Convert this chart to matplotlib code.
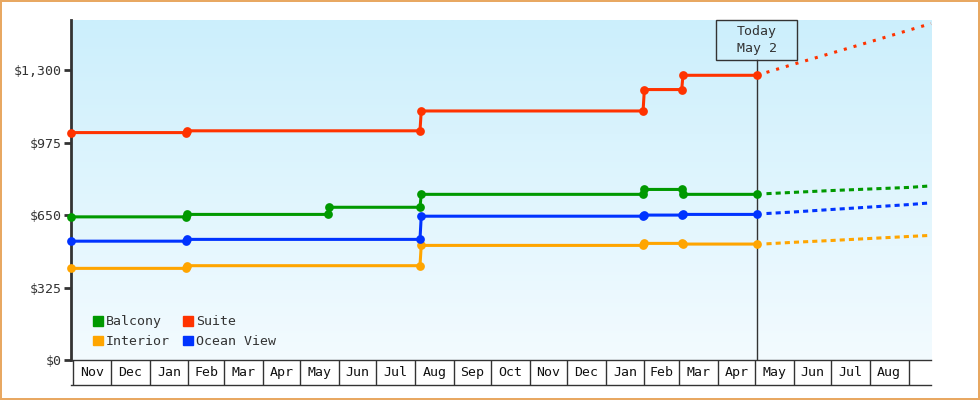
import numpy as np
import pandas as pd
import matplotlib
matplotlib.use('Agg')
import matplotlib.pyplot as plt
import matplotlib.dates as mdates
from matplotlib.colors import LinearSegmentedColormap
from matplotlib.patches import Patch, Rectangle

plt.rcParams['font.family'] = ['DejaVu Sans Mono', 'DejaVu Sans']

# price history, each step change is two points one day apart
dates_std = ['2023-10-30', '2024-01-30', '2024-01-31', '2024-08-05', '2024-08-06',
             '2025-01-31', '2025-02-01', '2025-03-03', '2025-03-04', '2025-05-02']
dates_balcony = ['2023-10-30', '2024-01-30', '2024-01-31', '2024-05-23', '2024-05-24',
                 '2024-08-05', '2024-08-06', '2025-01-31', '2025-02-01', '2025-03-03',
                 '2025-03-04', '2025-05-02']

balcony = [642, 642, 653, 653, 685, 685, 743, 743, 765, 765, 743, 743]
suite = [1020, 1020, 1028, 1028, 1117, 1117, 1213, 1213, 1277, 1277]
ocean_view = [533, 533, 541, 541, 645, 645, 650, 650, 653, 653]
interior = [411, 411, 423, 423, 514, 514, 523, 523, 520, 520]

# forecast after today
fc_dates = ['2025-05-10', '2025-06-01', '2025-07-01', '2025-08-01', '2025-09-01', '2025-09-19']
fc_balcony = [746, 752, 760, 767, 774, 781]
fc_suite = [1290, 1327, 1376, 1427, 1479, 1509]
fc_ocean_view = [657, 664, 675, 686, 697, 705]
fc_interior = [521, 528, 536, 545, 554, 559]

today = '2025-05-02'
today_label = 'Today\nMay 2'
x_start, x_end = '2023-10-30', '2025-09-19'
y_ticks = [0, 325, 650, 975, 1300]
y_labels = ['$0', '$325', '$650', '$975', '$1,300']

colors = {'Balcony': '#009900', 'Suite': '#FF3300',
          'Interior': '#FFA500', 'Ocean View': '#0033FF'}
dark = '#333333'
W, H = 980, 400

fig = plt.figure(figsize=(9.8, 4.0), dpi=100)
fig.patch.set_facecolor('white')
fig.patch.set_edgecolor('#E8A862')
fig.patch.set_linewidth(1.5)

pos = [71 / W, 40 / H, 860 / W, 340 / H]

# gradient background
bg = fig.add_axes(pos, zorder=0)
cmap = LinearSegmentedColormap.from_list('bg', ['#F3FBFF', '#CCEFFC'])
bg.imshow(np.linspace(0, 1, 256).reshape(-1, 1), cmap=cmap, aspect='auto',
          origin='lower', extent=[0, 1, 0, 1])
bg.axis('off')

ax = fig.add_axes(pos, zorder=1)
ax.patch.set_alpha(0)

td = lambda d: pd.to_datetime(d)

series = [('Balcony', dates_balcony, balcony, fc_balcony, (1.67, 1.33)),
          ('Suite', dates_std, suite, fc_suite, (1.0, 2.3)),
          ('Interior', dates_std, interior, fc_interior, (1.67, 1.33)),
          ('Ocean View', dates_std, ocean_view, fc_ocean_view, (1.67, 1.33))]

for name, d, v, fc, dash in series:
    c = colors[name]
    ax.plot(td(d), v, color=c, lw=2.2, marker='o', ms=6.3, mec=c, mew=0,
            solid_capstyle='round', zorder=3, clip_on=False)
    ax.plot(td(fc_dates), fc, color=c, lw=2.2, dashes=dash, zorder=3, clip_on=False)

ax.set_xlim(td(x_start), td(x_end))
ax.set_ylim(0, 1525)

ax.set_yticks(y_ticks)
ax.set_yticklabels(y_labels)
ax.tick_params(axis='y', length=5, width=2, color=dark, labelcolor=dark,
               labelsize=9.5, pad=1.5)
ax.set_xticks([])
for s in ['top', 'right']:
    ax.spines[s].set_visible(False)
ax.spines['left'].set_color(dark)
ax.spines['left'].set_linewidth(2)
ax.spines['bottom'].set_color(dark)
ax.spines['bottom'].set_linewidth(1)

# today marker line and box
x0, x1 = mdates.date2num(td(x_start)), mdates.date2num(td(x_end))
tf = (mdates.date2num(td(today)) - x0) / (x1 - x0)
box_w, box_h = 81 / 860, 40 / 340
ax.plot([tf, tf], [0, 1 - box_h], color=dark, lw=1, transform=ax.transAxes, zorder=2)
ax.add_patch(Rectangle((tf - box_w / 2, 1 - box_h), box_w, box_h, transform=ax.transAxes,
                       fill=False, ec=dark, lw=1, zorder=4, clip_on=False))
ax.text(tf, 1 - box_h / 2, today_label, transform=ax.transAxes, ha='center', va='center',
        fontsize=9.5, color=dark, linespacing=1.35, zorder=5)

# legend
handles = [Patch(color=colors[n]) for n in ['Balcony', 'Interior', 'Suite', 'Ocean View']]
ax.legend(handles, ['Balcony', 'Interior', 'Suite', 'Ocean View'], ncol=2,
          loc='lower left', bbox_to_anchor=(22 / 860, 12 / 340), frameon=False,
          fontsize=9.5, handlelength=0.75, handleheight=0.75, handletextpad=0.2,
          columnspacing=1.05, labelspacing=0.5, borderpad=0, borderaxespad=0,
          labelcolor=dark)

# month boxes below the axis
axm = fig.add_axes([71 / W, 15 / H, 860 / W, 25 / H], sharex=ax, zorder=1)
axm.patch.set_alpha(0)
axm.set_ylim(0, 1)
month_starts = pd.date_range('2023-11-01', '2025-09-01', freq='MS')
for m in month_starts:
    axm.axvline(m, color=dark, lw=1)
for a, b in zip(month_starts[:-1], month_starts[1:]):
    axm.text(a + (b - a) / 2, 0.5, a.strftime('%b'), ha='center', va='center',
             fontsize=9.5, color='#111111')
for s in ['top', 'left', 'right']:
    axm.spines[s].set_visible(False)
axm.spines['bottom'].set_color(dark)
axm.spines['bottom'].set_linewidth(1)
axm.set_yticks([])
axm.tick_params(axis='x', bottom=False, labelbottom=False)
axm.set_xlim(td(x_start), td(x_end))

fig.savefig('out.png', dpi=100, facecolor=fig.get_facecolor(), edgecolor=fig.get_edgecolor())
